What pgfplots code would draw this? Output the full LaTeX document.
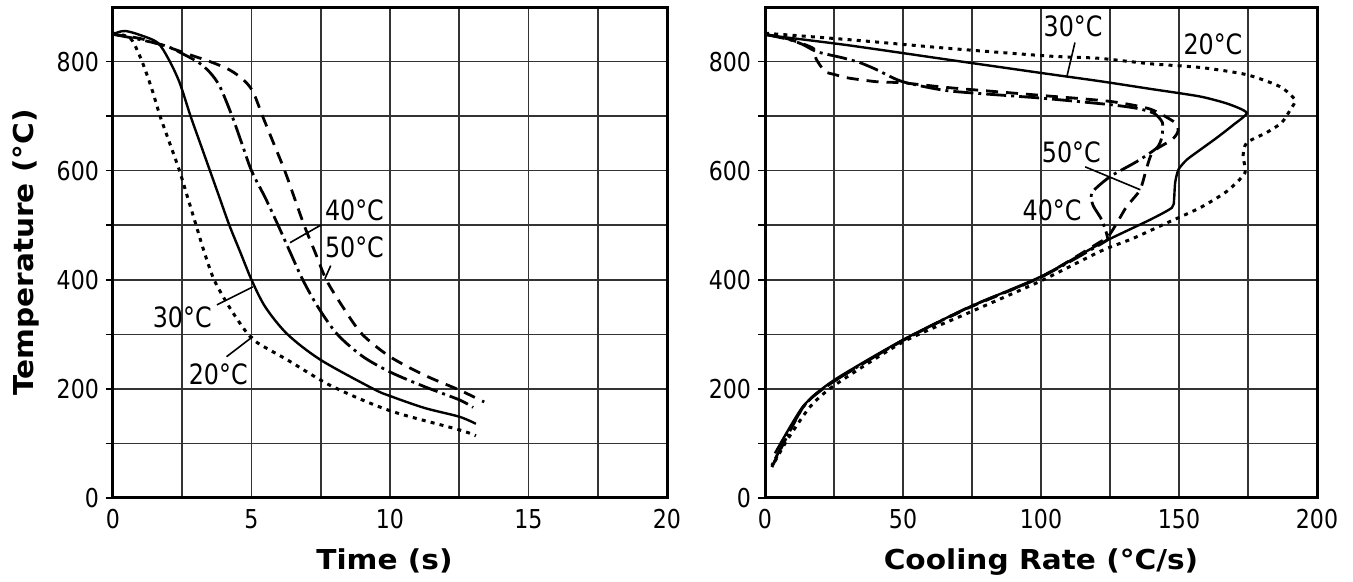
\documentclass[border=0pt]{standalone}
\usepackage{fontspec}
\setmainfont{DejaVu Sans}[FakeStretch=0.85]
\newfontfamily\labfont{DejaVu Sans}[FakeStretch=1.08]
\usepackage{pgfplots}
\pgfplotsset{compat=1.18}

\pgfplotsset{
  cr/.style={
    scale only axis, anchor=south west,
    height=245.5pt, ymin=0, ymax=900,
    ytick={0,200,...,800}, minor ytick={100,300,500,700},
    grid=both,
    major grid style={line width=0.8pt, black!80},
    minor grid style={line width=0.8pt, black!80},
    axis line style={line width=1.5pt},
    tick align=outside, tick pos=left,
    xtick style={draw=none},
    ytick style={line width=0.8pt, black},
    major tick length=3.5pt, minor tick length=3.5pt,
    ticklabel style={font=\fontsize{13}{15}\selectfont},
    xticklabel style={yshift=1.2pt},
    label style={font=\labfont\bfseries\fontsize{13.7}{16}\selectfont},
    /pgf/number format/assume math mode=true,
  },
  s20/.style={black, line width=1.5pt, dash pattern=on 2pt off 2.6pt},
  s30/.style={black, line width=1.2pt},
  s40/.style={black, line width=1.4pt, dash pattern=on 10pt off 2.5pt on 1.5pt off 2.5pt},
  s50/.style={black, line width=1.4pt, dash pattern=on 6pt off 4pt},
}
\tikzset{lab/.style={font=\fontsize{14}{16}\selectfont}}

\begin{document}
\begin{tikzpicture}
\useasboundingbox (-56.5pt,-42pt) rectangle (620pt,249pt);

% left: temperature vs time
\begin{axis}[cr, at={(0pt,0pt)}, width=277pt,
    xmin=0, xmax=20, xtick={0,5,...,20}, minor xtick={2.5,7.5,12.5,17.5},
    xlabel={Time (s)}, ylabel={Temperature (°C)},
    xlabel style={at={(axis description cs:0.49,-0.1466)}, anchor=base},
    ylabel style={at={(axis description cs:-0.143,0.5)}, anchor=base}]
  % 20 C
  \addplot[s20, smooth] coordinates {
    (0,852) (0.4,848) (0.7,838) (1.05,800) (1.4,750) (1.7,700) (2.05,650)
    (2.4,600) (2.7,550) (3.0,500) (3.3,450) (3.65,400) (4.2,350) (4.8,305)
    (5.2,285) (6.3,253) (7.9,205) (10,160) (12.5,125) (13.1,114)};
  % 30 C
  \addplot[s30, smooth] coordinates {
    (0,850) (0.2,854) (0.45,856) (0.9,850) (1.6,835) (2.0,805) (2.4,762)
    (2.8,700) (3.15,650) (3.5,600) (3.85,550) (4.2,500) (4.6,450) (5.0,400)
    (5.5,350) (6.3,300) (7.5,253) (9.4,200) (10,187) (11.25,165) (12.5,149) (13.1,136)};
  % 40 C
  \addplot[s40, smooth] coordinates {
    (0,850) (1,840) (1.95,828) (2.6,812) (3.1,798) (3.5,780) (3.86,754)
    (4.3,700) (4.65,650) (5.0,600) (5.5,550) (5.96,500) (6.4,450) (6.85,400)
    (7.4,350) (8.1,300) (9,260) (10,231) (11.25,204) (12.5,180) (13.0,166)};
  % 50 C
  \addplot[s50, smooth] coordinates {
    (0,850) (1,842) (1.9,828) (2.8,812) (3.5,800) (4.2,785) (4.7,767)
    (5.05,745) (5.4,700) (5.8,650) (6.2,600) (6.55,550) (6.9,500) (7.3,450)
    (7.7,400) (8.3,350) (9.0,300) (10,259) (11.25,225) (12.5,198) (13.4,176)};

  \draw[line width=0.8pt] (axis cs:7.53,501) -- (axis cs:6.39,468);
  \draw[line width=0.8pt] (axis cs:7.86,426) -- (axis cs:7.65,402);
  \draw[line width=0.8pt] (axis cs:3.75,354) -- (axis cs:5.05,387);
  \draw[line width=0.8pt] (axis cs:4.1,259) -- (axis cs:5.05,296);
  \node[lab, anchor=west] at (axis cs:7.4,528) {40°C};
  \node[lab, anchor=west] at (axis cs:7.4,459) {50°C};
  \node[lab] at (axis cs:2.5,332) {30°C};
  \node[lab] at (axis cs:3.8,226) {20°C};
\end{axis}

% right: temperature vs cooling rate
\begin{axis}[cr, at={(326pt,0pt)}, width=276pt,
    xmin=0, xmax=200, xtick={0,50,...,200}, minor xtick={25,75,125,175},
    xlabel={Cooling Rate (°C/s)},
    xlabel style={at={(axis description cs:0.5,-0.1466)}, anchor=base}]
  % 20 C
  \addplot[s20, smooth, tension=0.4] coordinates {
    (0,852) (30.8,840) (67,824) (103,810) (121,806) (139.5,796) (158,789)
    (174.5,776) (186.6,754) (192,730) (190.6,714) (187.2,688) (181.8,670)
    (174.5,651) (173.2,626) (173.9,596) (167.3,562) (157.6,532) (145.5,504)
    (133.4,476) (121.4,452) (100,398) (74,340) (50,286) (25,206) (16.3,167)
    (8,106) (2.5,57)};
  % 30 C
  \addplot[s30, smooth, tension=0.4] coordinates {
    (0,849) (30,830) (67,803) (103,777) (121.4,764) (139.5,750) (157.6,736)
    (168,722) (174.5,706) (169.7,684) (163.6,660) (157.6,638) (152.8,620)
    (149.8,602) (148.6,578) (148.2,547) (147.4,532) (139.5,510) (121.4,466)
    (100,406) (74,350) (50,290) (25,216) (13.8,168) (3.6,82)};
  % 40 C
  \addplot[s40, smooth, tension=0.4] coordinates {
    (0,850) (9,840) (13.8,831) (18.8,818) (28,807) (34.4,798) (40.5,785)
    (46.4,770) (51.4,761) (67,746) (100,733) (125,721) (135,714) (141,705)
    (144,688) (143.8,662) (142,642) (134.8,617) (125,589) (118.5,560)
    (118.8,537) (122,510) (124,479) (122.5,468) (100,405) (74,350) (50,289)
    (25,214) (14,168) (2.5,60)};
  % 50 C
  \addplot[s50, smooth, tension=0.4] coordinates {
    (0,850) (8,842) (15,830) (18,822) (18.5,805) (21.7,782) (25.4,776)
    (30,770) (40.5,763) (50,761) (67,752) (100,738) (125,727) (139.5,713)
    (148.6,688) (149.6,672) (147.5,657) (140.6,635) (138.4,607) (135.9,565)
    (131,534) (127.5,504) (124.3,479) (121,468) (100,405) (74,349) (50,289)
    (25,214) (14,168) (2.5,57)};

  \draw[line width=0.8pt] (axis cs:112.3,835) -- (axis cs:109.4,773);
  \draw[line width=0.8pt] (axis cs:116,607) -- (axis cs:136,565);
  \node[lab] at (axis cs:111.6,864) {30°C};
  \node[lab] at (axis cs:162.3,831) {20°C};
  \node[lab] at (axis cs:111,633) {50°C};
  \node[lab] at (axis cs:104,528) {40°C};
\end{axis}
\end{tikzpicture}
\end{document}
